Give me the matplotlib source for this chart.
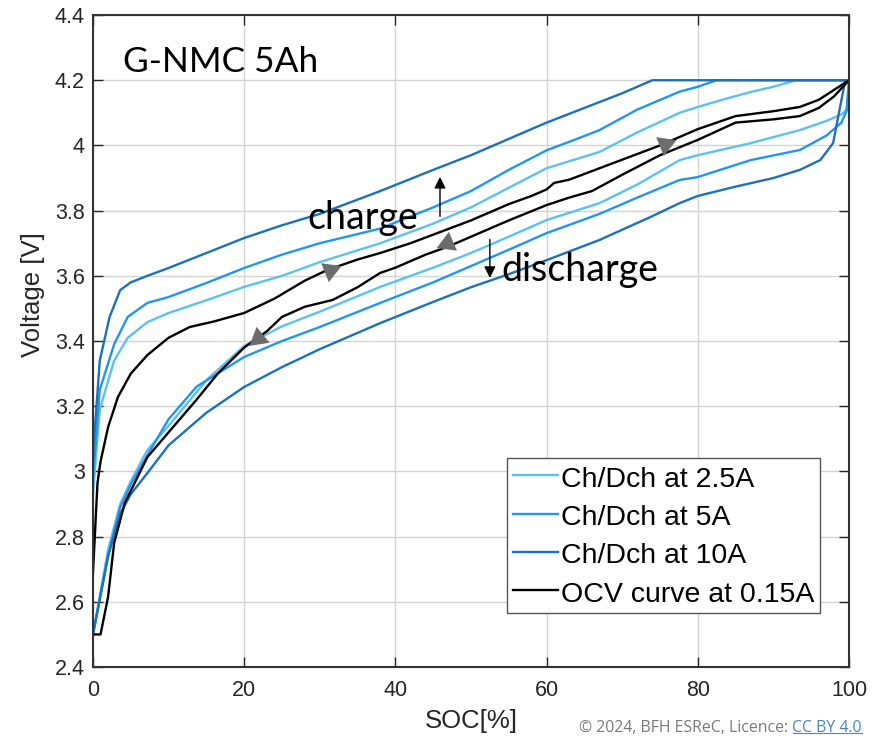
import matplotlib
matplotlib.use("Agg")
import matplotlib.pyplot as plt

# ---- data: SOC [%] and voltage [V] ----
# 2.5 A
ch25_soc = [0, 0.9, 2.8, 4.6, 7.2, 10, 15, 20, 25, 30, 38, 45, 50, 55, 60, 67, 72, 77.6, 80, 84, 87, 90, 93, 100]
ch25_v   = [2.93, 3.19, 3.34, 3.41, 3.458, 3.486, 3.525, 3.566, 3.60, 3.642, 3.70, 3.76, 3.81, 3.87, 3.93, 3.98, 4.04, 4.10, 4.118, 4.145, 4.164, 4.18, 4.2, 4.2]
dc25_soc = [100, 99.7, 99, 97, 93.5, 87, 80, 77.6, 72, 67, 60, 55, 50, 45, 38, 30, 25, 20, 15, 10, 7.2, 5, 3.6, 2, 1, 0]
dc25_v   = [4.2, 4.11, 4.095, 4.075, 4.047, 4.007, 3.97, 3.955, 3.88, 3.823, 3.771, 3.72, 3.67, 3.625, 3.566, 3.49, 3.445, 3.385, 3.28, 3.14, 3.066, 2.97, 2.90, 2.76, 2.63, 2.5]
# 5 A
ch5_soc = [0, 0.9, 2.8, 4.6, 7.2, 10, 15, 20, 25, 30, 38, 45, 50, 55, 60, 64, 67, 72, 77.6, 80, 82.5, 100]
ch5_v   = [2.98, 3.25, 3.39, 3.474, 3.517, 3.535, 3.578, 3.624, 3.665, 3.70, 3.745, 3.81, 3.86, 3.925, 3.985, 4.02, 4.047, 4.11, 4.165, 4.18, 4.2, 4.2]
dc5_soc = [100, 99.7, 99, 97, 93.5, 87, 80, 77.6, 72, 67, 60, 55, 50, 45, 38, 30, 25, 20, 13.7, 10, 7.2, 5, 3.6, 2, 1, 0]
dc5_v   = [4.2, 4.108, 4.07, 4.03, 3.986, 3.955, 3.903, 3.894, 3.84, 3.79, 3.731, 3.68, 3.63, 3.58, 3.517, 3.443, 3.40, 3.351, 3.26, 3.16, 3.05, 2.96, 2.89, 2.74, 2.62, 2.5]
# 10 A
ch10_soc = [0, 0.9, 2.2, 3.6, 5, 7.2, 10, 15, 20, 25, 30, 38, 45, 50, 55, 60, 65, 70, 74, 100]
ch10_v   = [3.05, 3.34, 3.474, 3.556, 3.58, 3.60, 3.624, 3.67, 3.716, 3.755, 3.79, 3.86, 3.925, 3.97, 4.02, 4.07, 4.115, 4.16, 4.2, 4.2]
dc10_soc = [100, 99.5, 97.9, 96.2, 93.5, 90, 84.7, 80, 77.6, 73.7, 67, 60, 55, 50, 45, 38, 30, 25, 20, 15, 10, 7.2, 5, 3.6, 2, 1, 0]
dc10_v   = [4.2, 4.2, 4.007, 3.955, 3.925, 3.90, 3.872, 3.845, 3.823, 3.78, 3.71, 3.648, 3.605, 3.565, 3.52, 3.455, 3.375, 3.32, 3.259, 3.18, 3.08, 2.995, 2.93, 2.87, 2.74, 2.62, 2.5]
# OCV at 0.15 A
ocv_ch_soc = [0, 0.6, 1, 2, 3.3, 5, 7.2, 10, 12.8, 16, 20, 24, 28, 31, 35, 38, 42, 46, 50, 55, 58, 60, 61, 63, 67, 71, 75, 80, 85, 90, 93.5, 96, 98, 99, 100]
ocv_ch_v   = [2.688, 2.965, 3.03, 3.136, 3.228, 3.30, 3.357, 3.41, 3.443, 3.46, 3.486, 3.53, 3.585, 3.618, 3.65, 3.67, 3.70, 3.735, 3.77, 3.82, 3.845, 3.865, 3.885, 3.895, 3.93, 3.965, 4.0, 4.05, 4.09, 4.105, 4.118, 4.14, 4.17, 4.185, 4.2]
ocv_dc_soc = [100, 99, 98, 96, 93.5, 90, 85, 80, 75, 70, 66, 63, 60, 55, 50, 47, 44, 40, 38, 35, 31.7, 28, 25, 23, 20, 16.5, 13.7, 10, 7.2, 5.9, 4.2, 2.8, 2, 1, 0]
ocv_dc_v   = [4.2, 4.175, 4.15, 4.115, 4.09, 4.08, 4.07, 4.017, 3.97, 3.91, 3.86, 3.84, 3.817, 3.77, 3.72, 3.69, 3.665, 3.625, 3.609, 3.565, 3.526, 3.505, 3.474, 3.43, 3.38, 3.30, 3.22, 3.12, 3.044, 2.983, 2.903, 2.78, 2.615, 2.5, 2.5]

labels = ["Ch/Dch at 2.5A", "Ch/Dch at 5A", "Ch/Dch at 10A", "OCV curve at 0.15A"]
colors = ["#5BC2EE", "#1F97EE", "#1A72B8", "#000000"]

# direction markers on the OCV loop: (SOC, V, screen angle in degrees)
dir_soc = [21.8, 31.3, 46.8, 75.7]
dir_v = [3.41, 3.618, 3.70, 4.005]
dir_ang = [219, 22, 203, 22]

fig = plt.figure(figsize=(8.82, 7.40), dpi=100)
ax = fig.add_axes([0.1054, 0.0986, 0.8572, 0.8811])

lw = 1.7
series = [((ch25_soc, ch25_v), (dc25_soc, dc25_v)),
          ((ch5_soc, ch5_v), (dc5_soc, dc5_v)),
          ((ch10_soc, ch10_v), (dc10_soc, dc10_v)),
          ((ocv_ch_soc, ocv_ch_v), (ocv_dc_soc, ocv_dc_v))]
handles = []
for (ch, dc), col, lab in zip(series, colors, labels):
    h, = ax.plot(ch[0], ch[1], color=col, lw=lw, label=lab, solid_joinstyle="round")
    ax.plot(dc[0], dc[1], color=col, lw=lw, solid_joinstyle="round")
    handles.append(h)

for s, v, a in zip(dir_soc, dir_v, dir_ang):
    ax.plot([s], [v], linestyle="none", marker=(3, 0, a - 90), markersize=17,
            color="#6c6c6c", markeredgewidth=0)

ax.set_xlim(0, 100)
ax.set_ylim(2.4, 4.4)
ax.set_xticks([0, 20, 40, 60, 80, 100])
ax.set_yticks([2.4, 2.6, 2.8, 3.0, 3.2, 3.4, 3.6, 3.8, 4.0, 4.2, 4.4])
ax.set_yticklabels(["2.4", "2.6", "2.8", "3", "3.2", "3.4", "3.6", "3.8", "4", "4.2", "4.4"])
ax.grid(True, color="#d4d4d4", lw=1.0)
ax.set_axisbelow(True)
ax.tick_params(direction="in", length=7, width=1.0, top=True, right=True,
               labelsize=15.5, colors="#262626")
ax.tick_params(axis="x", pad=9)
ax.tick_params(axis="y", pad=6)
for lbl in ax.get_xticklabels() + ax.get_yticklabels():
    lbl.set_fontfamily("Liberation Sans")
for sp in ax.spines.values():
    sp.set_color("#333333")
    sp.set_linewidth(1.5)

ax.set_xlabel("SOC[%]", fontsize=18.5, family="Liberation Sans", color="#262626", labelpad=6)
ax.set_ylabel("Voltage [V]", fontsize=18.5, family="Liberation Sans", color="#262626")
ax.yaxis.set_label_coords(-0.064, 0.571)

leg = ax.legend(handles=handles, loc="upper left", bbox_to_anchor=(0.5476, 0.3206),
                prop={"family": "Liberation Sans", "size": 20.5}, frameon=True, fancybox=False,
                edgecolor="#555555", framealpha=1, borderaxespad=0, borderpad=0.2,
                handlelength=1.6, handleheight=1.1, handletextpad=0.1, labelspacing=0.31)
leg.get_frame().set_linewidth(1.0)

txt_font = "Lato"
ax.text(4.0, 4.256, "G-NMC 5Ah", fontsize=25.4, family=txt_font, va="center", ha="left")
ax.text(28.3, 3.744, "charge", fontsize=27, family=txt_font, va="baseline", ha="left")
ax.text(54.0, 3.584, "discharge", fontsize=27, family=txt_font, va="baseline", ha="left")
ax.annotate("", xy=(45.9, 3.912), xytext=(45.9, 3.774),
            arrowprops=dict(arrowstyle="-|>", color="black", lw=1.0, mutation_scale=17))
ax.annotate("", xy=(52.5, 3.585), xytext=(52.5, 3.72),
            arrowprops=dict(arrowstyle="-|>", color="black", lw=1.0, mutation_scale=17))

# copyright line with underlined license name, right-aligned near the figure edge
fs_c = 11.4
t0 = fig.text(0, 0.005, "© 2024, BFH ESReC, Licence: ", fontsize=fs_c, family="Open Sans",
              color="#7a7a7a", ha="left", va="bottom")
lic = fig.text(0, 0.005, "CC BY 4.0", fontsize=fs_c, family="Open Sans",
               color="#4a86b8", ha="left", va="bottom")
fig.canvas.draw()
r = fig.canvas.get_renderer()
w0 = t0.get_window_extent(r).width
wl = lic.get_window_extent(r).width
W, H = fig.bbox.width, fig.bbox.height
x_start = 862 - wl - w0
t0.set_x(x_start / W)
lic.set_x((x_start + w0) / W)
y_ul = 0.005 + 3.5 / H
fig.add_artist(plt.Line2D([(x_start + w0) / W, (x_start + w0 + wl) / W], [y_ul, y_ul],
                          color="#4a86b8", lw=0.8, transform=fig.transFigure))

fig.savefig("out.png", dpi=100)
